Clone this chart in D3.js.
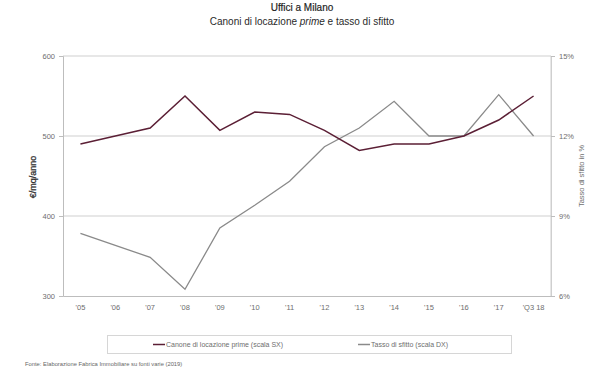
<!DOCTYPE html>
<html>
<head>
<meta charset="utf-8">
<script src="https://cdn.jsdelivr.net/npm/d3@7"></script>
<style>
  html, body { margin: 0; padding: 0; background: #fff; }
  svg { display: block; font-family: "Liberation Sans", Arial, sans-serif; }
</style>
</head>
<body>
<svg id="chart" width="609" height="376"></svg>
<script>
// Periods on the x axis
const periods = ["'05", "'06", "'07", "'08", "'09", "'10", "'11", "'12", "'13", "'14", "'15", "'16", "'17", "'Q3 18"];
// Prime rent, €/mq/anno (left scale)
const rent = [490, 500, 510, 550, 507, 530, 527, 507, 482, 490, 490, 500, 520, 550];
// Vacancy rate, % (right scale)
const vacancy = [8.35, 7.9, 7.45, 6.25, 8.55, 9.4, 10.3, 11.6, 12.3, 13.3, 12.0, 12.0, 13.55, 12.0];
// Axis ticks
const rentTicks = [300, 400, 500, 600];
const vacancyTicks = [6, 9, 12, 15];

const svg = d3.select("#chart");
const plot = { left: 63, right: 551, top: 56, bottom: 296 };

const x = d3.scaleBand().domain(periods).range([plot.left, plot.right]);
const yL = d3.scaleLinear().domain([300, 600]).range([plot.bottom, plot.top]);
const yR = d3.scaleLinear().domain([6, 15]).range([plot.bottom, plot.top]);

const textCol = "#6e6e6e";

// Titles
svg.append("text").attr("x", 302).attr("y", 11).attr("text-anchor", "middle")
  .attr("font-size", 10).attr("fill", "#1f1f1f").attr("stroke", "#1f1f1f").attr("stroke-width", 0.2)
  .text("Uffici a Milano");
const t2 = svg.append("text").attr("x", 302).attr("y", 25).attr("text-anchor", "middle")
  .attr("font-size", 10).attr("fill", "#2a2a2a");
t2.append("tspan").text("Canoni di locazione ");
t2.append("tspan").attr("font-style", "italic").text("prime");
t2.append("tspan").text(" e tasso di sfitto");

// Horizontal gridlines
svg.append("g").selectAll("line").data(rentTicks.slice(1)).join("line")
  .attr("x1", plot.left).attr("x2", plot.right)
  .attr("y1", d => yL(d)).attr("y2", d => yL(d))
  .attr("stroke", "#cfcfcf").attr("stroke-width", 1);

// Plot frame right side
svg.append("line").attr("x1", plot.right).attr("x2", plot.right)
  .attr("y1", plot.top).attr("y2", plot.bottom).attr("stroke", "#cfcfcf");

// Left axis
const axL = svg.append("g").attr("transform", `translate(${plot.left},0)`)
  .call(d3.axisLeft(yL).tickValues(rentTicks).tickSize(4).tickFormat(d3.format("d")));
axL.select(".domain").attr("stroke", "#bdbdbd");
axL.selectAll(".tick line").attr("stroke", "#bdbdbd");
axL.selectAll(".tick text").attr("fill", textCol).attr("font-size", 7.5)
  .attr("font-family", "Liberation Sans, Arial, sans-serif").attr("x", -8);

// Right axis
const axR = svg.append("g").attr("transform", `translate(${plot.right},0)`)
  .call(d3.axisRight(yR).tickValues(vacancyTicks).tickSize(4).tickFormat(d => d + "%"));
axR.select(".domain").attr("stroke", "#cfcfcf");
axR.selectAll(".tick line").attr("stroke", "#bdbdbd");
axR.selectAll(".tick text").attr("fill", textCol).attr("font-size", 7.5)
  .attr("font-family", "Liberation Sans, Arial, sans-serif").attr("x", 8);

// Bottom axis
const axB = svg.append("g").attr("transform", `translate(0,${plot.bottom})`)
  .call(d3.axisBottom(x).tickSize(0).tickPadding(9));
axB.select(".domain").attr("stroke", "#bdbdbd");
axB.selectAll(".tick text").attr("fill", textCol).attr("font-size", 7.5)
  .attr("font-family", "Liberation Sans, Arial, sans-serif");

// Axis titles
svg.append("text").attr("transform", "translate(36,177) rotate(-90)")
  .attr("text-anchor", "middle").attr("font-size", 9).attr("fill", "#333")
  .attr("stroke", "#333").attr("stroke-width", 0.3)
  .text("€/mq/anno");
svg.append("text").attr("transform", "translate(584,176) rotate(-90)")
  .attr("text-anchor", "middle").attr("font-size", 7.5).attr("fill", textCol)
  .text("Tasso di sfitto in %");

const cx = d => x(d) + x.bandwidth() / 2;

// Vacancy line
svg.append("path").datum(vacancy)
  .attr("fill", "none").attr("stroke", "#8a8a8a").attr("stroke-width", 1.3)
  .attr("d", d3.line().x((d, i) => cx(periods[i])).y(d => yR(d)));

// Rent line
svg.append("path").datum(rent)
  .attr("fill", "none").attr("stroke", "#5b1f35").attr("stroke-width", 1.5)
  .attr("d", d3.line().x((d, i) => cx(periods[i])).y(d => yL(d)));

// Legend
svg.append("rect").attr("x", 107.5).attr("y", 335.5).attr("width", 404).attr("height", 18)
  .attr("fill", "#fff").attr("stroke", "#d6d6d6");
const legend = [
  { label: "Canone di locazione prime (scala SX)", color: "#5b1f35", x: 153 },
  { label: "Tasso di sfitto (scala DX)", color: "#8a8a8a", x: 358 }
];
const lg = svg.append("g").selectAll("g").data(legend).join("g")
  .attr("transform", d => `translate(${d.x},344.5)`);
lg.append("line").attr("x1", 0).attr("x2", 12).attr("stroke", d => d.color).attr("stroke-width", 1.5);
lg.append("text").attr("x", 13).attr("dy", "0.35em").attr("font-size", 7)
  .attr("fill", textCol).text(d => d.label);

// Source note
svg.append("text").attr("x", 25).attr("y", 366).attr("font-size", 5.8).attr("fill", "#666")
  .text("Fonte: Elaborazione Fabrica Immobiliare su fonti varie (2019)");
</script>
</body>
</html>
